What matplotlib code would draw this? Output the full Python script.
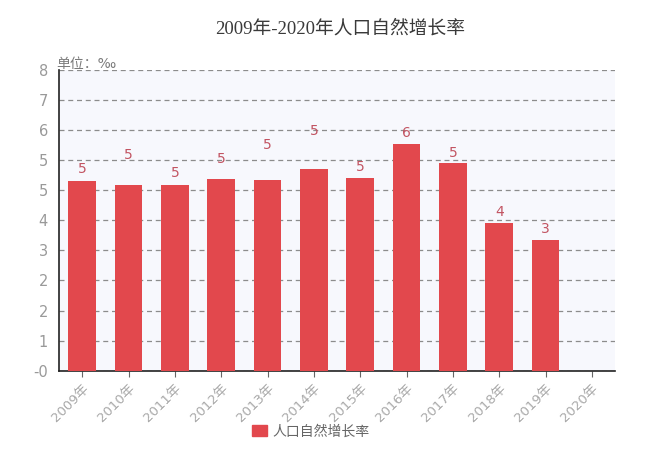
#!/usr/bin/env python3
"""Bar chart: 2009-2020 natural population growth rate."""
import matplotlib

matplotlib.use("Agg")
import matplotlib.pyplot as plt
from matplotlib.patches import Patch

YEARS = ["2009年", "2010年", "2011年", "2012年", "2013年", "2014年",
         "2015年", "2016年", "2017年", "2018年", "2019年", "2020年"]
RATES = [4.72, 4.64, 4.64, 4.79, 4.75, 5.04, 4.81, 5.66, 5.17, 3.69, 3.25, None]
# where each value label sits (data units)
LABEL_Y = [5.02, 5.39, 4.94, 5.27, 5.62, 5.97, 5.08, 5.93, 5.43, 3.97, 3.54, None]
Y_TICKS = [0, 0.75, 1.5, 2.25, 3.0, 3.75, 4.5, 5.25, 6.0, 6.75, 7.5]
Y_TICK_LABELS = ["-0", "1", "2", "2", "3", "4", "5", "5", "6", "7", "8"]
SERIES = "人口自然增长率"
TITLE = "2009年-2020年人口自然增长率"
UNIT = "单位：‰"

SANS = ["DejaVu Sans", "Noto Sans CJK SC"]
SERIF = ["Liberation Serif", "Noto Sans CJK SC"]
plt.rcParams["font.family"] = SANS

BAR = "#E2484D"
GREY = "#8a8a8a"

fig = plt.figure(figsize=(6.5, 4.59), dpi=100)
ax = fig.add_axes([0.0908, 0.1924, 0.8554, 0.6551])
ax.set_facecolor("#F7F8FD")

xs = list(range(len(YEARS)))
for i, v in enumerate(RATES):
    if v is None:
        continue
    ax.bar(i, v, width=0.6, color=BAR, zorder=3)
    ax.text(i, LABEL_Y[i], f"{round(v)}", ha="center", va="center",
            fontsize=10, color="#C25462", zorder=4)

ax.set_xlim(-0.5, len(YEARS) - 0.5)
ax.set_ylim(0, 7.5)
ax.set_yticks(Y_TICKS)
ax.set_yticklabels(Y_TICK_LABELS, fontsize=10.5, color="#999999")
ax.set_xticks(xs)
ax.set_xticklabels(YEARS, rotation=45, ha="right", rotation_mode="anchor",
                   fontsize=9.5, color="#a8a8a8")
ax.tick_params(axis="y", length=0, pad=8)
ax.tick_params(axis="x", length=4, color="#666666", pad=4)

ax.grid(axis="y", linestyle=(0, (4, 3)), color="#8c8c8c", lw=0.9, zorder=1)
ax.set_axisbelow(True)
for s in ("top", "right"):
    ax.spines[s].set_visible(False)
for s in ("left", "bottom"):
    ax.spines[s].set_color("#222222")
    ax.spines[s].set_linewidth(1.2)

fig.text(0.523, 0.938, TITLE, ha="center", va="center", fontsize=13.5,
         color="#3a3a3a", family=SERIF)
fig.text(0.087, 0.861, UNIT, ha="left", va="center", fontsize=10,
         color="#7a7a7a")

fig.legend(handles=[Patch(color=BAR, label=SERIES)], loc="center",
           bbox_to_anchor=(0.478, 0.060), frameon=False, fontsize=10,
           handlelength=1.1, handleheight=0.9, handletextpad=0.4,
           labelcolor="#666666")

fig.savefig("out.png", dpi=100)
